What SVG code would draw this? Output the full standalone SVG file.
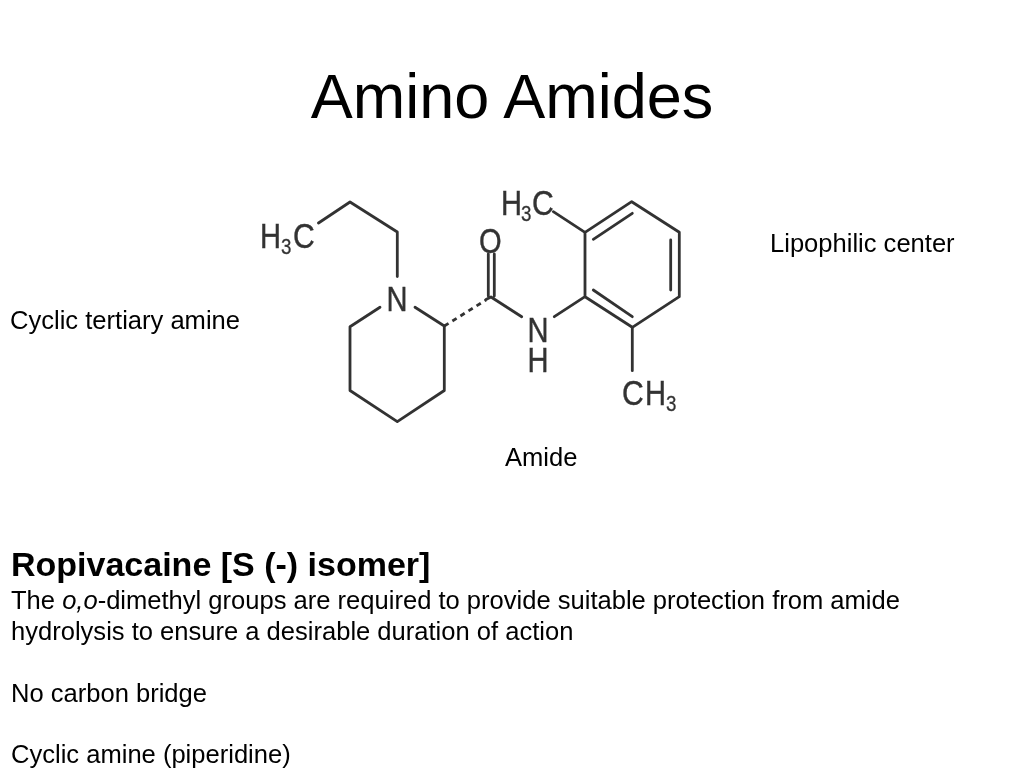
<svg xmlns="http://www.w3.org/2000/svg" width="1024" height="768" viewBox="0 0 1024 768">
<style>
text{font-family:"Liberation Sans",Arial,sans-serif;fill:#000}
.t{font-size:25.55px}
.a{font-size:35.5px;fill:#333;stroke:#333;stroke-width:.4}
.s{font-size:22px;fill:#333;stroke:#333;stroke-width:.3}
.b{fill:none;stroke:#333;stroke-width:2.8;stroke-linejoin:round;stroke-linecap:round}
</style>
<defs><filter id="soft" x="-5%" y="-5%" width="110%" height="110%"><feGaussianBlur stdDeviation="0.5"/></filter></defs>
<rect width="1024" height="768" fill="#fff"/>
<text id="title" x="512" y="118" text-anchor="middle" font-size="63">Amino Amides</text>
<g id="molecule" filter="url(#soft)">
<g id="connectors">
<path class="b" d="M318.500 223L350 202L397.300 232V276.500"/>
<path class="b" d="M380 307.300L350 326.700V390.500L397.300 421.700L444.300 390.500V326L415 307.300"/>
<path class="b" d="M444.300 326L486 300" stroke-dasharray="5 4.500" style="stroke-linecap:butt"/>
<path class="b" d="M488.300 254V296M494.300 254V296M486 299.500L491 297L521.700 316.700"/>
<path class="b" d="M554.300 316.700L585 296.700V232.300L631.700 201.700L679.300 232.300V296.700L632.300 327.300L585 296.700"/>
<path class="b" d="M593.300 239.300L632.300 213.300M670.700 240V290M593.300 290L632.300 316.700"/>
<path class="b" d="M553.300 211.700L585 232.300M632.300 327.300V370.700"/>
</g>
<g id="atom-h3c-left"><text class="a" transform="translate(260 247.500) scale(.82 1)">H</text><text class="s" transform="translate(281 254) scale(.85 1)">3</text><text class="a" transform="translate(293 247.500) scale(.85 1)">C</text></g>
<g id="atom-n1"><text class="a" transform="translate(386.500 310.500) scale(.82 1)">N</text></g>
<g id="atom-o"><text class="a" transform="translate(479 252.500) scale(.82 1)">O</text></g>
<g id="atom-nh"><text class="a" transform="translate(527.500 341.500) scale(.82 1)">N</text><text class="a" transform="translate(527.500 372) scale(.82 1)">H</text></g>
<g id="atom-h3c-top"><text class="a" transform="translate(501 214.500) scale(.82 1)">H</text><text class="s" transform="translate(521 221) scale(.85 1)">3</text><text class="a" transform="translate(532 214.500) scale(.85 1)">C</text></g>
<g id="atom-ch3"><text class="a" transform="translate(622 404.500) scale(.85 1)">C</text><text class="a" transform="translate(645 404.500) scale(.82 1)">H</text><text class="s" transform="translate(666 410.500) scale(.85 1)">3</text></g>
</g>
<g id="label-lipophilic"><text class="t" x="770" y="252">Lipophilic center</text></g>
<g id="label-amine"><text class="t" x="10" y="328.500">Cyclic tertiary amine</text></g>
<g id="label-amide"><text class="t" x="505" y="465.500">Amide</text></g>
<g id="body">
<text x="11" y="576" font-size="34" font-weight="bold">Ropivacaine [S (-) isomer]</text>
<text class="t" x="11" y="608.500">The <tspan font-style="italic">o,o</tspan>-dimethyl groups are required to provide suitable protection from amide</text>
<text class="t" x="11" y="639.500">hydrolysis to ensure a desirable duration of action</text>
<text class="t" x="11" y="701.500">No carbon bridge</text>
<text class="t" x="11" y="762.500">Cyclic amine (piperidine)</text>
</g>
</svg>
